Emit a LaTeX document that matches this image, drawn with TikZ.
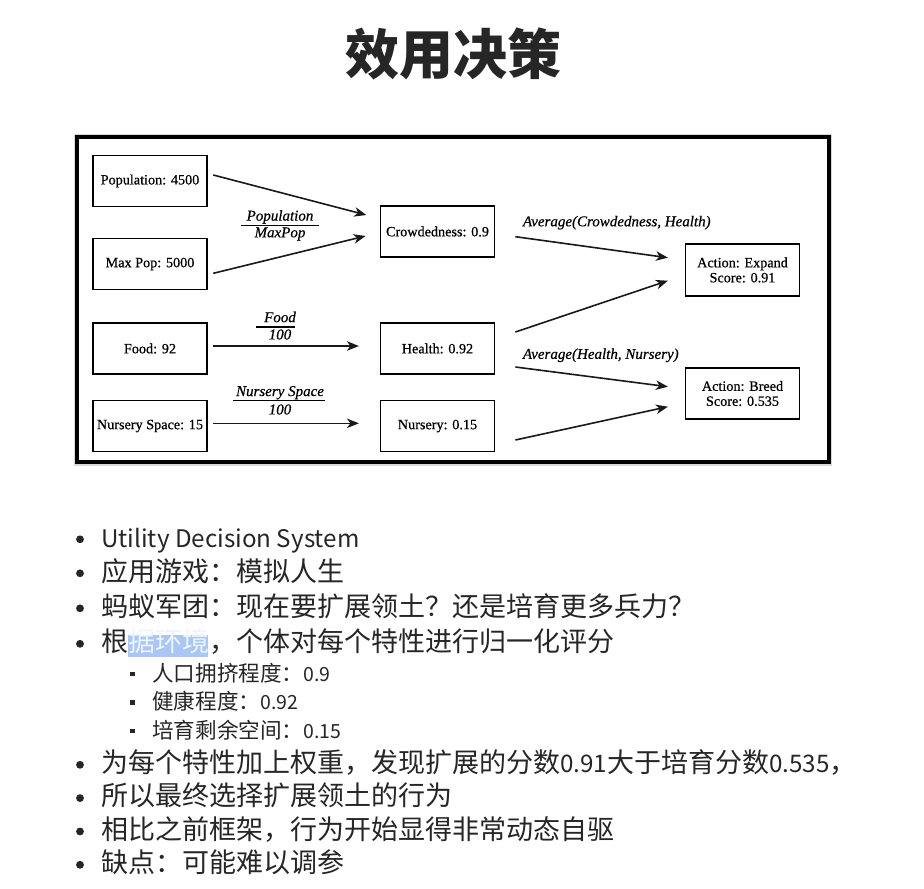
\documentclass[tikz,border=0pt]{standalone}
\usepackage{fontspec}
\setmainfont{Liberation Serif}
\newfontfamily\dgm{Liberation Serif}[FakeBold=0.6]
\newfontfamily\cjk{Noto Sans CJK SC}
% Latin runs inside the list are set a little smaller than the ideographs
\newcommand\lmain{\fontsize{24.2}{30}\selectfont}
\newcommand\lsub{\fontsize{19.5}{24}\selectfont}
\usetikzlibrary{arrows.meta,calc}

\definecolor{ink}{HTML}{262626}
\definecolor{selbg}{HTML}{A9C7F2}
\definecolor{selfg}{HTML}{EEF4FF}

\tikzset{
  box/.style={draw, line width=1.8pt, minimum width=114pt, minimum height=51pt,
    inner sep=0pt, align=center, font=\dgm\fontsize{14.2}{15}\selectfont},
  link/.style={line width=1.6pt, draw=black!90,
    -{Stealth[length=12pt,width=9.5pt,inset=3.5pt]}},
  lbl/.style={inner sep=0pt, font=\dgm\fontsize{15}{16}\selectfont\itshape},
  fracbar/.style={line width=1.2pt},
  item/.style={anchor=base west, inner sep=0pt, text=ink,
    font=\cjk\fontsize{27}{30}\selectfont},
  subitem/.style={anchor=base west, inner sep=0pt, text=ink,
    font=\cjk\fontsize{21.6}{24}\selectfont},
  dot/.style={fill=ink},
}

\begin{document}
\begin{tikzpicture}[x=1pt,y=-1pt]
\useasboundingbox (0,0) rectangle (924,889);
\fill[white] (0,0) rectangle (924,889);

% heading
\node[inner sep=0pt, text=ink, font=\cjk\bfseries\fontsize{54}{60}\selectfont] (title) at (453,54) {效用决策};

% diagram frame
\draw[line width=7pt, black!15] (77,137) rectangle (828.7,462);
\draw[line width=4.3pt, fill=white] (77,137) rectangle (828.7,462);

% input values
\node[box] (pop)    at (150,181)   {Population: 4500};
\node[box] (maxpop) at (150,264)   {Max Pop: 5000};
\node[box] (food)   at (150,348.5) {Food: 92};
\node[box] (nspace) at (150,426)   {Nursery Space: 15};

% normalised considerations
\node[box] (crowd)   at (437.5,231.5) {Crowdedness: 0.9};
\node[box] (health)  at (437.5,348.5) {Health: 0.92};
\node[box] (nursery) at (437.5,426)   {Nursery: 0.15};

% scored actions
\node[box, minimum height=52pt] (expand) at (742.5,270)   {Action: Expand\\Score: 0.91};
\node[box] (breed)  at (742.5,393.5) {Action: Breed\\Score: 0.535};

% connectors
\draw[link] ($(pop.east)+(5.4,-6)$)     -- ($(crowd.west)+(-13.3,-16.5)$);
\draw[link] ($(maxpop.east)+(5.4,9.3)$) -- ($(crowd.west)+(-14,4.5)$);
\draw[link] ($(food.east)+(5.4,-2.5)$)  -- ($(health.west)+(-20.7,-2.5)$);
\draw[link] ($(nspace.east)+(5.4,-2.7)$) -- ($(nursery.west)+(-20.7,-2.7)$);
\draw[link] ($(crowd.east)+(20,5.2)$)    -- ($(expand.west)+(-16.7,-12.3)$);
\draw[link] ($(health.east)+(20,-16.5)$) -- ($(expand.west)+(-16.7,10.7)$);
\draw[link] ($(health.east)+(20,18.5)$)  -- ($(breed.west)+(-16.7,-6.8)$);
\draw[link] ($(nursery.east)+(20,14)$)   -- ($(breed.west)+(-16.7,13.2)$);

% formulas
\node[lbl] (popnum) at (280,217)   {Population};
\node[lbl] (popden) at (280,234)   {MaxPop};
\draw[fracbar] (241,225.7) -- (319.3,225.7);
\node[lbl] (foodnum) at (280,317)  {Food};
\node[lbl] (foodden) at (280,334.5){100};
\draw[fracbar] (256,327) -- (295.3,327);
\node[lbl] (nsnum) at (280,392.7)  {Nursery Space};
\node[lbl] (nsden) at (280,409.5)  {100};
\draw[fracbar] (233.3,400.7) -- (325,400.7);
\node[lbl, anchor=west] (avgexp) at (522.7,222.7) {Average(Crowdedness, Health)};
\node[lbl, anchor=west] (avgbrd) at (522.7,355.3) {Average(Health, Nursery)};

% selection highlight
\fill[selbg] (128.3,635) rectangle (208.3,656.7);

% bullet list
\node[item] (l1) at (101,547)   {\lmain Utility Decision System};
\node[item] (l2) at (101,581)   {应用游戏：模拟人生};
\node[item] (l3) at (101,616)   {蚂蚁军团：现在要扩展领土？还是培育更多兵力？};
\node[item] (l4) at (101,651.5) {根{\color{selfg}据环境}，个体对每个特性进行归一化评分};
\node[subitem] (s1) at (152,681)   {人口拥挤程度：{\lsub 0.9}};
\node[subitem] (s2) at (152,709.5) {健康程度：{\lsub 0.92}};
\node[subitem] (s3) at (152,738)   {培育剩余空间：{\lsub 0.15}};
\node[item] (l5) at (101,772.5) {为每个特性加上权重，发现扩展的分数{\lmain 0.91}大于培育分数{\lmain 0.535}，};
\node[item] (l6) at (101,805.8) {所以最终选择扩展领土的行为};
\node[item] (l7) at (101,839.2) {相比之前框架，行为开始显得非常动态自驱};
\node[item] (l8) at (101,872.5) {缺点：可能难以调参};

\foreach \b in {547,581,616,651.5,772.5,805.8,839.2,872.5}
  \fill[dot] (80,\b-7.7) circle (3.9);
\foreach \b in {681,709.5,738}
  \fill[dot] (130.4,\b-9.4) rectangle (135,\b-4.8);
\end{tikzpicture}
\end{document}
